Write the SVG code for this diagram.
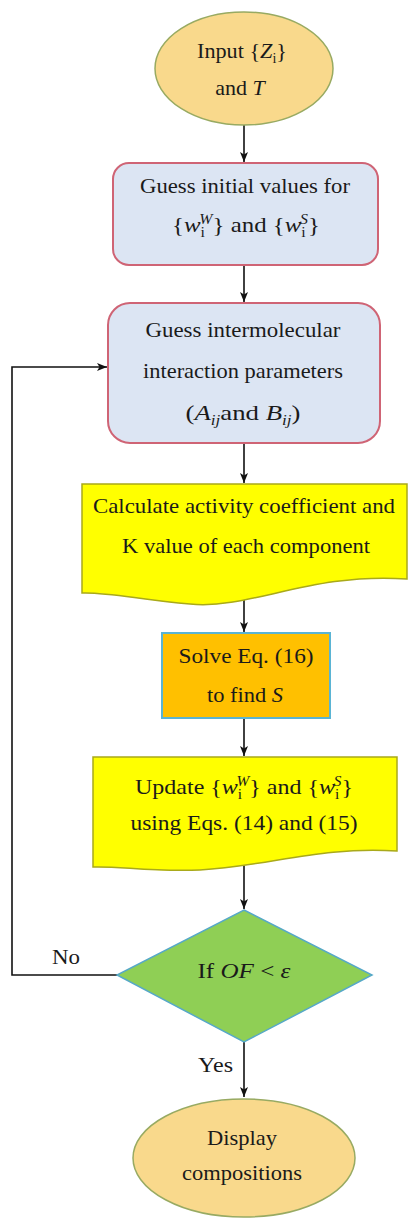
<svg xmlns="http://www.w3.org/2000/svg" width="411" height="1218" viewBox="0 0 411 1218">
<style>
text{font-family:'Liberation Serif','DejaVu Serif','Times New Roman',serif}
.t{font-size:22px;fill:#1a1a1a;text-anchor:middle}
.lbl{font-size:22px;fill:#1a1a1a}
.i{font-style:italic}
.sub{font-size:14px}
.term{fill:#f9d98c;stroke:#98aa62;stroke-width:1.5}
.proc{fill:#dce5f3;stroke:#cf6475;stroke-width:2}
.doc{fill:#ffff00;stroke:#a9a91a;stroke-width:1.5}
.orng{fill:#ffc000;stroke:#5ab4d4;stroke-width:2}
.dec{fill:#8fcf55;stroke:#56a8c8;stroke-width:1.5}
.con{fill:none;stroke:#111;stroke-width:1.6;marker-end:url(#arr)}
</style>
<defs>
<marker id="arr" markerUnits="userSpaceOnUse" markerWidth="10" markerHeight="10" viewBox="0 0 10 10" refX="10" refY="5" orient="auto">
<path d="M0,1 L10,5 L0,9 L2.5,5 z" fill="#111"/>
</marker>
</defs>
<rect width="411" height="1218" fill="#ffffff"/>

<g id="connectors">
<line class="con" x1="244" y1="125" x2="244" y2="162"/>
<line class="con" x1="244" y1="265" x2="244" y2="302"/>
<line class="con" x1="244" y1="443" x2="244" y2="483"/>
<line class="con" x1="244" y1="598" x2="244" y2="632"/>
<line class="con" x1="244" y1="718" x2="244" y2="756"/>
<line class="con" x1="244" y1="863" x2="244" y2="909"/>
<line class="con" x1="244" y1="1042" x2="244" y2="1097"/>
<path class="con" d="M117,975 H12 V367 H107"/>
<text class="lbl" x="52" y="964" textLength="28" lengthAdjust="spacingAndGlyphs">No</text>
<text class="lbl" x="198" y="1072" textLength="35" lengthAdjust="spacingAndGlyphs">Yes</text>
</g>

<g id="start">
<ellipse class="term" cx="244" cy="68.5" rx="89" ry="56.5"/>
<text class="t" x="242" y="58" textLength="90" lengthAdjust="spacingAndGlyphs">Input {<tspan class="i">Z</tspan><tspan class="sub" dy="5">i</tspan><tspan dy="-5">}</tspan></text>
<text class="t" x="240" y="95">and <tspan class="i">T</tspan></text>
</g>

<g id="guess-initial">
<rect class="proc" x="113" y="163" width="265" height="102" rx="16"/>
<text class="t" x="245" y="193" textLength="210" lengthAdjust="spacingAndGlyphs">Guess initial values for</text>
<text class="t" x="246" y="232" textLength="148" lengthAdjust="spacingAndGlyphs">{<tspan class="i">w</tspan><tspan class="sub" dy="5">i</tspan><tspan class="sub i" dx="-5" dy="-13">W</tspan><tspan dy="8">}</tspan> and {<tspan class="i">w</tspan><tspan class="sub" dy="5">i</tspan><tspan class="sub i" dx="-5" dy="-13">S</tspan><tspan dy="8">}</tspan></text>
</g>

<g id="guess-params">
<rect class="proc" x="108" y="303" width="272" height="140" rx="22"/>
<text class="t" x="243" y="337" textLength="195" lengthAdjust="spacingAndGlyphs">Guess intermolecular</text>
<text class="t" x="243" y="378" textLength="200" lengthAdjust="spacingAndGlyphs">interaction parameters</text>
<text class="t" x="243" y="420" textLength="115" lengthAdjust="spacingAndGlyphs">(<tspan class="i">A</tspan><tspan class="sub i" dy="5">ij</tspan><tspan dy="-5">and </tspan><tspan class="i">B</tspan><tspan class="sub i" dy="5">ij</tspan><tspan dy="-5">)</tspan></text>
</g>

<g id="calc-activity">
<path class="doc" d="M82,484 H407 V579 C310,572 250,610 190,604 C140,600 110,592 82,593 Z"/>
<text class="t" x="244" y="513" textLength="302" lengthAdjust="spacingAndGlyphs">Calculate activity  coefficient and</text>
<text class="t" x="246" y="553" textLength="248" lengthAdjust="spacingAndGlyphs">K value of each component</text>
</g>

<g id="solve">
<rect class="orng" x="162" y="633" width="168" height="85"/>
<text class="t" x="246" y="663" textLength="135" lengthAdjust="spacingAndGlyphs">Solve Eq. (16)</text>
<text class="t" x="245" y="702" textLength="76" lengthAdjust="spacingAndGlyphs">to find <tspan class="i">S</tspan></text>
</g>

<g id="update">
<path class="doc" d="M93,757 H397 V851 C320,846 270,866 200,870 C150,872 120,866 93,867 Z"/>
<text class="t" x="244" y="794" textLength="218" lengthAdjust="spacingAndGlyphs">Update {<tspan class="i">w</tspan><tspan class="sub" dy="5">i</tspan><tspan class="sub i" dx="-5" dy="-13">W</tspan><tspan dy="8">}</tspan> and {<tspan class="i">w</tspan><tspan class="sub" dy="5">i</tspan><tspan class="sub i" dx="-5" dy="-13">S</tspan><tspan dy="8">}</tspan></text>
<text class="t" x="244" y="830" textLength="227" lengthAdjust="spacingAndGlyphs">using Eqs. (14) and (15)</text>
</g>

<g id="decision">
<polygon class="dec" points="244,910 372,975 244,1042 117,975"/>
<text class="t" x="244" y="978" textLength="93" lengthAdjust="spacingAndGlyphs">If <tspan class="i">OF</tspan> &lt; <tspan class="i">ε</tspan></text>
</g>

<g id="end">
<ellipse class="term" cx="244" cy="1158" rx="111" ry="59"/>
<text class="t" x="242" y="1145" textLength="70" lengthAdjust="spacingAndGlyphs">Display</text>
<text class="t" x="242" y="1180" textLength="120" lengthAdjust="spacingAndGlyphs">compositions</text>
</g>
</svg>
